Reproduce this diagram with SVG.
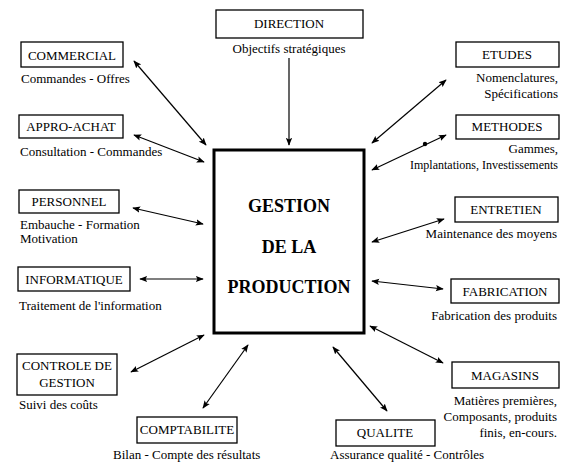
<svg xmlns="http://www.w3.org/2000/svg" width="569" height="462" viewBox="0 0 569 462">
<defs>
<marker id="ah" viewBox="0 0 10 10" refX="9" refY="5" markerWidth="8" markerHeight="8" markerUnits="userSpaceOnUse" orient="auto-start-reverse">
<path d="M0,1 L10,5 L0,9 L2,5 Z" fill="#000"/>
</marker>
</defs>
<style>
.box{fill:#fff;stroke:#000;stroke-width:1.3}
.lbl{font-family:"Liberation Serif","Times New Roman",serif;font-size:13px;fill:#000}
.c{text-anchor:middle}
.r{text-anchor:end}
.main{font-family:"Liberation Serif","Times New Roman",serif;font-size:18px;font-weight:bold;text-anchor:middle;fill:#000}
.con line{stroke:#000;stroke-width:1.2;marker-start:url(#ah);marker-end:url(#ah)}
</style>
<rect width="569" height="462" fill="#fff"/>
<g id="connectors" class="con">
<line x1="289" y1="58" x2="289" y2="145" style="marker-start:none"/>
<line x1="134" y1="61" x2="206" y2="145"/>
<line x1="134" y1="135" x2="204" y2="162"/>
<line x1="133" y1="208" x2="203" y2="224"/>
<line x1="140" y1="279" x2="203" y2="279"/>
<line x1="131" y1="372" x2="204" y2="335"/>
<line x1="203" y1="408" x2="248" y2="345"/>
<line x1="333" y1="347" x2="387" y2="411"/>
<line x1="370" y1="326" x2="443" y2="363"/>
<line x1="372" y1="281" x2="443" y2="289"/>
<line x1="372" y1="242" x2="444" y2="219"/>
<line x1="372" y1="170" x2="446" y2="135"/>
<line x1="372" y1="143" x2="446" y2="80"/>
<circle cx="425" cy="144" r="2.2" fill="#000"/>
</g>
<g id="center">
<rect x="214" y="150" width="150" height="183" fill="#fff" stroke="#000" stroke-width="3"/>
<text class="main" x="289" y="212">GESTION</text>
<text class="main" x="289" y="253">DE LA</text>
<text class="main" x="289" y="293">PRODUCTION</text>
</g>
<g id="direction">
<rect class="box" x="216" y="10" width="147" height="28"/>
<text class="lbl c" x="289" y="28">DIRECTION</text>
<text class="lbl c" x="289" y="53">Objectifs stratégiques</text>
</g>
<g id="commercial">
<rect class="box" x="21" y="42" width="102" height="25"/>
<text class="lbl c" x="72" y="60">COMMERCIAL</text>
<text class="lbl" x="21" y="83">Commandes - Offres</text>
</g>
<g id="appro">
<rect class="box" x="19" y="115" width="104" height="23"/>
<text class="lbl c" x="71" y="131">APPRO-ACHAT</text>
<text class="lbl" x="20" y="156">Consultation - Commandes</text>
</g>
<g id="personnel">
<rect class="box" x="19" y="190" width="100" height="23"/>
<text class="lbl c" x="69" y="206">PERSONNEL</text>
<text class="lbl" x="20" y="229">Embauche - Formation</text>
<text class="lbl" x="20" y="243">Motivation</text>
</g>
<g id="informatique">
<rect class="box" x="18" y="267" width="112" height="24"/>
<text class="lbl c" x="74" y="284">INFORMATIQUE</text>
<text class="lbl" x="19" y="310">Traitement de l'information</text>
</g>
<g id="controle">
<rect class="box" x="17" y="354" width="100" height="41"/>
<text class="lbl c" x="67" y="370">CONTROLE DE</text>
<text class="lbl c" x="67" y="387">GESTION</text>
<text class="lbl" x="19" y="409">Suivi des coûts</text>
</g>
<g id="comptabilite">
<rect class="box" x="137" y="417" width="100" height="26"/>
<text class="lbl c" x="187" y="434">COMPTABILITE</text>
<text class="lbl" x="113" y="459">Bilan - Compte des résultats</text>
</g>
<g id="qualite">
<rect class="box" x="336" y="420" width="99" height="26"/>
<text class="lbl c" x="385" y="437">QUALITE</text>
<text class="lbl" x="330" y="459">Assurance qualité - Contrôles</text>
</g>
<g id="etudes">
<rect class="box" x="456" y="42" width="103" height="25"/>
<text class="lbl c" x="507" y="59">ETUDES</text>
<text class="lbl r" x="558" y="82">Nomenclatures,</text>
<text class="lbl r" x="558" y="98">Spécifications</text>
</g>
<g id="methodes">
<rect class="box" x="456" y="115" width="103" height="24"/>
<text class="lbl c" x="507" y="131">METHODES</text>
<text class="lbl r" x="558" y="153">Gammes,</text>
<text class="lbl r" x="558" y="169" style="font-size:12px">Implantations, Investissements</text>
</g>
<g id="entretien">
<rect class="box" x="455" y="197" width="103" height="25"/>
<text class="lbl c" x="506" y="214">ENTRETIEN</text>
<text class="lbl r" x="557" y="238">Maintenance des moyens</text>
</g>
<g id="fabrication">
<rect class="box" x="451" y="279" width="108" height="24"/>
<text class="lbl c" x="505" y="296">FABRICATION</text>
<text class="lbl r" x="557" y="320">Fabrication des produits</text>
</g>
<g id="magasins">
<rect class="box" x="452" y="362" width="107" height="26"/>
<text class="lbl c" x="505" y="380">MAGASINS</text>
<text class="lbl r" x="557" y="405">Matières premières,</text>
<text class="lbl r" x="557" y="421">Composants, produits</text>
<text class="lbl r" x="557" y="437">finis, en-cours.</text>
</g>
</svg>
